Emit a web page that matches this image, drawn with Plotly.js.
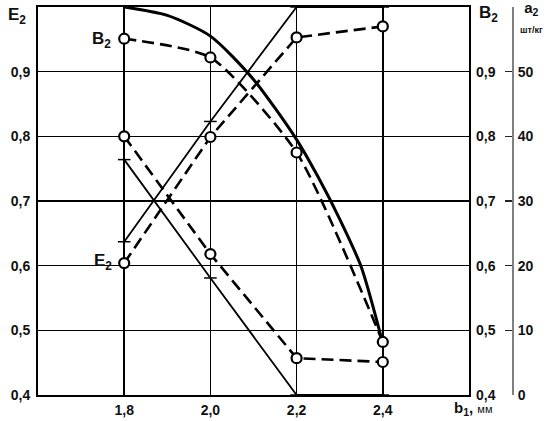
<!DOCTYPE html>
<html><head><meta charset="utf-8">
<script src="https://cdn.plot.ly/plotly-3.0.1.min.js"></script>
<style>html,body{margin:0;padding:0;background:#fff;}</style>
</head><body>
<div id="chart" style="width:551px;height:421px;"></div>
<script>
// b1, mm
const b1 = [1.8, 2.0, 2.2, 2.4];
// B2 calculated curve (solid thick), read at finer steps
const b1Fine = [1.8, 1.9, 2.0, 2.1, 2.2, 2.25, 2.3, 2.35, 2.4];
const B2calc = [1.0, 0.987, 0.955, 0.888, 0.795, 0.737, 0.672, 0.598, 0.48];
// B2 experimental (dashed, circles)
const B2exp = [0.951, 0.922, 0.775, 0.482];
// E2 calculated (thin solid, ticks) and experimental (dashed, circles)
const E2calc = [0.637, 0.823, 1.0, 1.0];
const E2exp = [0.604, 0.799, 0.953, 0.970];
// a2, pcs/kg: calculated (thin solid) and experimental (dashed, circles)
const a2calc = [36.4, 18.1, 0, 0];
const a2exp = [40, 21.8, 5.7, 5.1];
// ticks
const xTicks = [1.8, 2.0, 2.2, 2.4];
const xTickText = ['1,8', '2,0', '2,2', '2,4'];
const yTicks = [0.4, 0.5, 0.6, 0.7, 0.8, 0.9];
const yTickText = ['0,4', '0,5', '0,6', '0,7', '0,8', '0,9'];
const a2Ticks = [0, 10, 20, 30, 40, 50, 60];
const a2TickText = ['0', '10', '20', '30', '40', '50', ' '];

const FONT = 'Liberation Sans, Arial, sans-serif';
const DASH = '12px,6px';
const circle = {symbol: 'circle', size: 10, color: '#fff', line: {color: '#000', width: 2.2}};
const tick = {symbol: 'line-ew-open', size: 9, color: '#000', line: {color: '#000', width: 1.5}};

const traces = [
  {x: b1Fine, y: B2calc, yaxis: 'y2', mode: 'lines', line: {color: '#000', width: 3, shape: 'spline', smoothing: 0.7}, cliponaxis: false},
  {x: b1, y: B2exp, yaxis: 'y2', mode: 'lines+markers', line: {color: '#000', width: 2.6, dash: DASH, shape: 'spline', smoothing: 0.6}, marker: circle, cliponaxis: false},
  {x: b1, y: E2calc, mode: 'lines+markers', line: {color: '#000', width: 1.8}, marker: tick, cliponaxis: false},
  {x: b1, y: E2exp, mode: 'lines+markers', line: {color: '#000', width: 2.6, dash: DASH}, marker: circle, cliponaxis: false},
  {x: b1, y: a2calc, yaxis: 'y3', mode: 'lines+markers', line: {color: '#000', width: 1.8}, marker: tick, cliponaxis: false},
  {x: b1, y: a2exp, yaxis: 'y3', mode: 'lines+markers', line: {color: '#000', width: 2.6, dash: DASH}, marker: circle, cliponaxis: false}
];

const W = 551, H = 421, L = 38, R = 30, T = 7, B = 26;
const pw = W - L - R, ph = H - T - B;
const px = v => (v - L) / pw;
const py = v => (H - B - v) / ph;

function ann(text, x, y, size, extra) {
  return Object.assign({text: text, xref: 'paper', yref: 'paper', x: px(x), y: py(y),
    showarrow: false, xanchor: 'center', yanchor: 'middle',
    font: {family: FONT, size: size, color: '#111', weight: 'bold'}}, extra || {});
}

const layout = {
  width: W, height: H,
  margin: {l: L, r: R, t: T, b: B, pad: 0},
  paper_bgcolor: '#fff', plot_bgcolor: '#fff',
  showlegend: false,
  separators: ', ',
  font: {family: FONT, size: 14, color: '#111', weight: 'bold'},
  xaxis: {
    range: [1.6, 2.6], domain: [0, 431 / pw],
    tickvals: xTicks, ticktext: xTickText,
    showgrid: true, gridcolor: '#000', gridwidth: 1.6,
    showline: true, linecolor: '#000', linewidth: 2, mirror: true,
    zeroline: false, ticks: '', ticklabelstandoff: 1,
    tickfont: {family: FONT, size: 14, color: '#111', weight: 'bold'}
  },
  yaxis: {
    range: [0.4, 1.0],
    tickvals: yTicks, ticktext: yTickText,
    showgrid: true, gridcolor: '#000', gridwidth: 1.6,
    showline: true, linecolor: '#000', linewidth: 2, mirror: true,
    zeroline: false, ticks: '', ticklabelstandoff: 3,
    tickfont: {family: FONT, size: 14, color: '#111', weight: 'bold'}
  },
  yaxis2: {
    range: [0.4, 1.0], overlaying: 'y', side: 'right', anchor: 'x',
    tickvals: yTicks, ticktext: yTickText,
    showgrid: false, zeroline: false, showline: false, ticks: '', ticklabelstandoff: 6,
    tickfont: {family: FONT, size: 14, color: '#111', weight: 'bold'}
  },
  yaxis3: {
    range: [0, 60], overlaying: 'y', side: 'right', anchor: 'free',
    position: px(513),
    tickvals: a2Ticks, ticktext: a2TickText,
    showgrid: false, zeroline: false,
    showline: true, linecolor: '#808080', linewidth: 2,
    ticks: 'inside', ticklen: 7, tickwidth: 1.5, tickcolor: '#222',
    ticklabelstandoff: 1,
    tickfont: {family: FONT, size: 14, color: '#111', weight: 'bold'}
  },
  annotations: [
    ann('E<sub>2</sub>', 17, 16, 17),
    ann('B<sub>2</sub>', 101, 40, 17),
    ann('E<sub>2</sub>', 103, 262, 17),
    ann('B<sub>2</sub>', 488, 14, 17),
    ann('a<sub>2</sub><br><span style="font-size:9px">шт/кг</span>', 531, -3, 15, {yanchor: 'top'}),
    ann('b<sub>1</sub>, <span style="font-size:11px;font-weight:normal">мм</span>', 473, 408, 15)
  ]
};

Plotly.newPlot('chart', traces, layout, {staticPlot: true, displayModeBar: false});
</script>
</body></html>
